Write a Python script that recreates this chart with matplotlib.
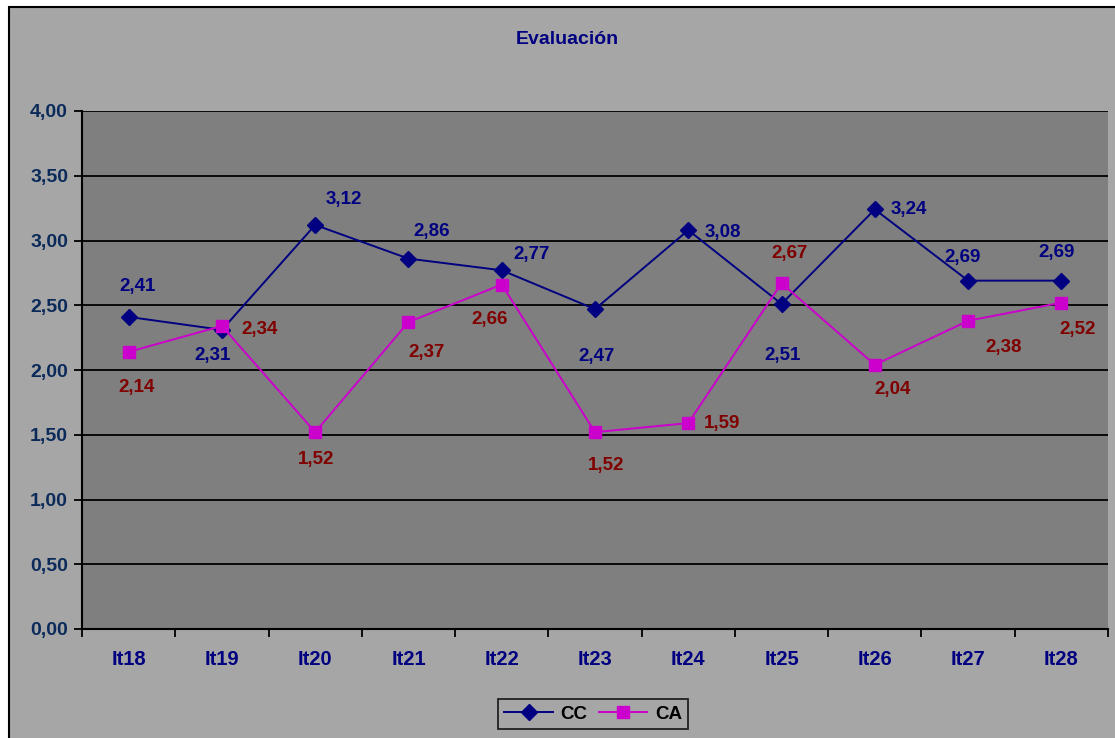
import matplotlib.pyplot as plt
from matplotlib.patches import Rectangle
from matplotlib.ticker import FixedLocator, FuncFormatter

plt.rcParams['font.family'] = ['Liberation Sans', 'DejaVu Sans']
plt.rcParams['font.weight'] = 'bold'

categories = ['It18', 'It19', 'It20', 'It21', 'It22', 'It23',
              'It24', 'It25', 'It26', 'It27', 'It28']
cc = [2.41, 2.31, 3.12, 2.86, 2.77, 2.47, 3.08, 2.51, 3.24, 2.69, 2.69]
ca = [2.14, 2.34, 1.52, 2.37, 2.66, 1.52, 1.59, 2.67, 2.04, 2.38, 2.52]

# label offsets in pixels (dx, dy upward)
cc_off = [(9, 30), (-9, -26), (29, 25), (23, 27), (30, 16), (2, -47),
          (35, -2), (1, -52), (34, 0), (-6, 23), (-5, 28)]
ca_off = [(8, -36), (38, -4), (1, -27), (18, -30), (-12, -35), (11, -33),
          (34, 0), (8, 30), (18, -25), (36, -27), (16, -27)]

FS = 13.5
W, H = 1115, 738
fig = plt.figure(figsize=(W / 100, H / 100), dpi=100)
fig.patch.set_facecolor('white')
fig.patches.append(Rectangle((9 / W, -0.05), 1.1, (H - 7) / H + 0.05,
                             transform=fig.transFigure, facecolor='#A6A6A6',
                             edgecolor='black', linewidth=1.5, zorder=-10))

ax = fig.add_axes([82 / W, (H - 629) / H, (1108 - 82) / W, (629 - 111) / H])
ax.set_facecolor('#7F7F7F')
x = list(range(len(categories)))

ax.plot(x, cc, color='#000080', lw=1.4, marker='D', ms=8,
        label='CC', zorder=3)
ax.plot(x, ca, color='#CC00CC', lw=1.4, marker='s', ms=8,
        label='CA', zorder=3)

for i in x:
    dx, dy = cc_off[i]
    ax.annotate(f'{cc[i]:.2f}'.replace('.', ','), (i, cc[i]),
                xytext=(dx * 0.72, dy * 0.72), textcoords='offset points',
                ha='center', va='center', color='#000080',
                fontsize=FS, fontweight='bold', zorder=4)
    dx, dy = ca_off[i]
    ax.annotate(f'{ca[i]:.2f}'.replace('.', ','), (i, ca[i]),
                xytext=(dx * 0.72, dy * 0.72), textcoords='offset points',
                ha='center', va='center', color='#800000',
                fontsize=FS, fontweight='bold', zorder=4)

ax.set_xlim(-0.5, len(categories) - 0.5)
ax.set_ylim(0, 4)
ax.set_yticks([i * 0.5 for i in range(9)])
ax.yaxis.set_major_formatter(FuncFormatter(lambda v, p: f'{v:.2f}'.replace('.', ',')))
ax.grid(axis='y', color='black', lw=1.3, zorder=1)
ax.set_axisbelow(True)

ax.set_xticks(x)
ax.set_xticklabels(categories)
ax.xaxis.set_minor_locator(FixedLocator([i - 0.5 for i in range(len(categories) + 1)]))
ax.tick_params(axis='x', which='major', length=0, pad=15,
               labelsize=14.5, labelcolor='#000080')
ax.tick_params(axis='x', which='minor', length=6, width=1.3, direction='out')
ax.tick_params(axis='y', length=6, width=1.3, pad=4,
               labelsize=14, labelcolor='#0A2A5A')
for lab in ax.get_xticklabels() + ax.get_yticklabels():
    lab.set_fontweight('bold')

for s in ['top', 'right']:
    ax.spines[s].set_visible(False)
for s in ['left', 'bottom']:
    ax.spines[s].set_linewidth(1.5)
    ax.spines[s].set_color('black')

fig.text(567 / W, (H - 40) / H, 'Evaluación', ha='center', va='center',
         fontsize=14, fontweight='bold', color='#000080')

leg = fig.legend(loc='center', bbox_to_anchor=(593 / W, (H - 714) / H),
                 ncol=2, frameon=True, fancybox=False, fontsize=FS,
                 handlelength=2.6, columnspacing=0.6, handletextpad=0.4,
                 borderpad=0.35)
leg.get_frame().set_edgecolor('black')
leg.get_frame().set_linewidth(1.3)
leg.get_frame().set_facecolor('#A6A6A6')
for t in leg.get_texts():
    t.set_fontweight('bold')

fig.savefig('out.png', dpi=100)
